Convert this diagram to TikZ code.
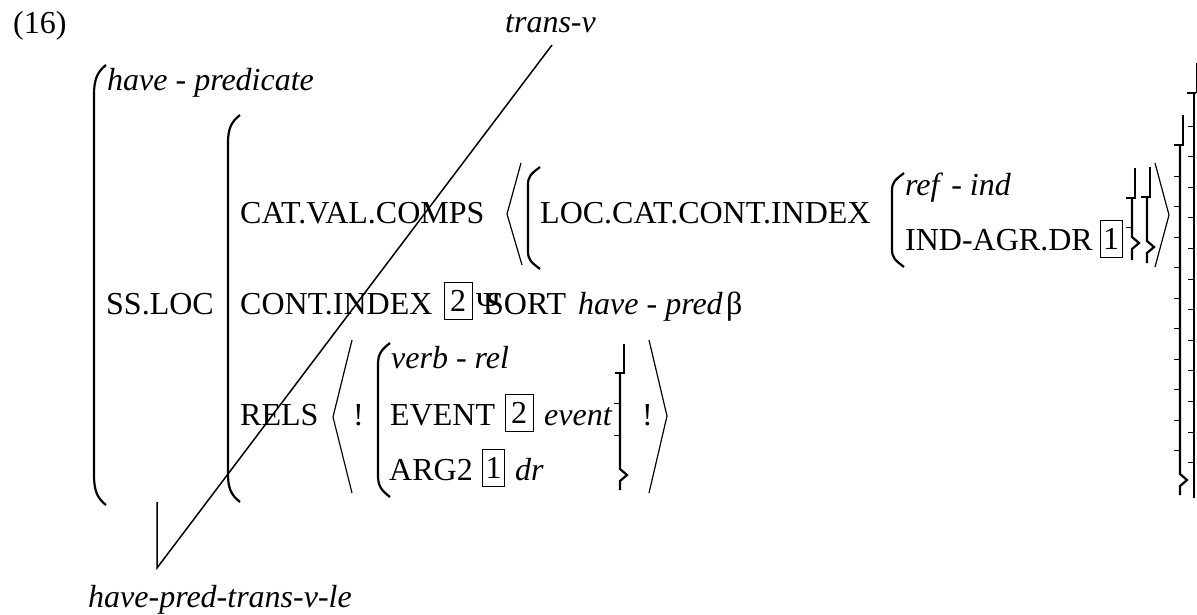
\documentclass[tikz,border=0pt]{standalone}
\usepackage{fontspec}
\setmainfont{Liberation Serif}

% left round bracket: x, top, bottom, curl length
\newcommand\avmparen[4]{%
  \draw[paren] (#1+12,#2) .. controls (#1+3,#2+7) and (#1,#2+#4/2) .. (#1,#2+#4)
    -- (#1,#3-#4) .. controls (#1,#3-#4/2) and (#1+3,#3-7) .. (#1+12,#3);}
% broken right brace: top x, main x, top, foot, bump, bottom
\newcommand\avmbrace[6]{%
  \draw[brk] (#1,#3) -- (#1,#4) -- (#1-9,#4);
  \draw[brk] (#2,#4) -- (#2,#5-6) -- (#2+7,#5) -- (#2,#5+6) -- (#2,#6);}

\begin{document}
\begin{tikzpicture}[x=1pt,y=-1pt,font=\fontsize{32}{38}\selectfont,
  lab/.style={anchor=base west,inner sep=0pt},
  tag/.style={draw,line width=1pt,inner sep=0pt,minimum height=37pt},
  paren/.style={line width=2.2pt},
  brk/.style={line width=2.2pt},
  tick/.style={line width=1pt},
  angl/.style={line width=1.2pt},
  diag/.style={line width=1.5pt}]
\useasboundingbox[fill=white] (0,0) rectangle (1197,614);

\node[lab] (num) at (13,33) {(16)};
\node[lab] (tv) at (505,32) {\textit{trans-v}};
\node[lab] (leaf) at (88,607) {\textit{have-pred-trans-v-le}};

% outer and SS.LOC brackets
\avmparen{94}{65}{505}{30}
\avmparen{228}{115}{502}{28}
\node[lab] (hp) at (107,90) {\textit{have} - \textit{predicate}};
\node[lab] (ssloc) at (106,314) {SS.LOC};

% CAT.VAL.COMPS row
\node[lab] (cvc) at (240,223) {CAT.VAL.COMPS};
\draw[angl] (521,163) -- (507,214) -- (522,265);
\avmparen{528}{167}{269}{18}
\node[lab] (lcci) at (540,223) {LOC.CAT.CONT.INDEX};
\avmparen{892}{173}{267}{18}
\node[lab] (refind) at (905,195) {\textit{ref} - \textit{ind}};
\node[lab] (indagr) at (905,250) {IND-AGR.DR};
\node[tag,minimum width=22pt] (tag1a) at (1111,238.5) {1};
\avmbrace{1135}{1132}{168}{198}{243}{260}
\avmbrace{1150}{1147}{167}{197}{247}{263}
\draw[tick] (1126,227) -- (1132,227);
\draw[angl] (1155,163) -- (1169,215) -- (1155,267);

% CONT.INDEX row
\node[lab] (contidx) at (240,314) {CONT.INDEX};
\node[tag,minimum width=28pt] (tag2a) at (458,300.5) {2};
\node[lab] (psi) at (476,314) {Ψ};
\node[lab] (sort) at (486,314) {SORT};
\node[lab] (hpred) at (578,314) {\textit{have} - \textit{pred}};
\node[lab,xshift=3pt] (beta) at (hpred.base east) {β};

% RELS row
\node[lab] (rels) at (240,425) {RELS};
\draw[angl] (352,340) -- (333,417) -- (352,493);
\node[lab] (bang1) at (353,425) {!};
\avmparen{378}{343}{497}{22}
\node[lab] (verbrel) at (391,368) {\textit{verb} - \textit{rel}};
\node[lab] (event) at (390,425) {EVENT};
\node[tag,minimum width=28pt] (tag2b) at (519,413) {2};
\node[lab] (evt) at (544,425) {\textit{event}};
\node[lab] (arg2) at (389,480) {ARG2};
\node[tag,minimum width=22pt] (tag1b) at (493.5,468) {1};
\node[lab] (dr) at (515,480) {\textit{dr}};
\avmbrace{624}{620}{344}{373}{475}{490}
\foreach \y in {403,435}{ \draw[tick] (614,\y) -- (620,\y); }
\node[lab] (bang2) at (642,425) {!};
\draw[angl] (649,340) -- (667,416) -- (649,493);

% closing brackets on the right
\avmbrace{1183}{1180}{115}{145}{480}{495}
\foreach \y in {176,206.5,...,452}{ \draw[tick] (1174,\y) -- (1180,\y); }
\draw[tick] (1196,63) -- (1196,93);
\draw[brk] (1187,93) -- (1196,93);
\draw[brk] (1194,93) -- (1194,498);
\foreach \y in {126,156.6,...,464}{ \draw[tick] (1188,\y) -- (1194,\y); }

% type hierarchy lines
\coordinate (stem) at (157,502);
\coordinate (apex) at (157,568);
\coordinate (tvfoot) at (552,45);
\draw[diag] (stem) -- (apex) -- (tvfoot);
\end{tikzpicture}
\end{document}
